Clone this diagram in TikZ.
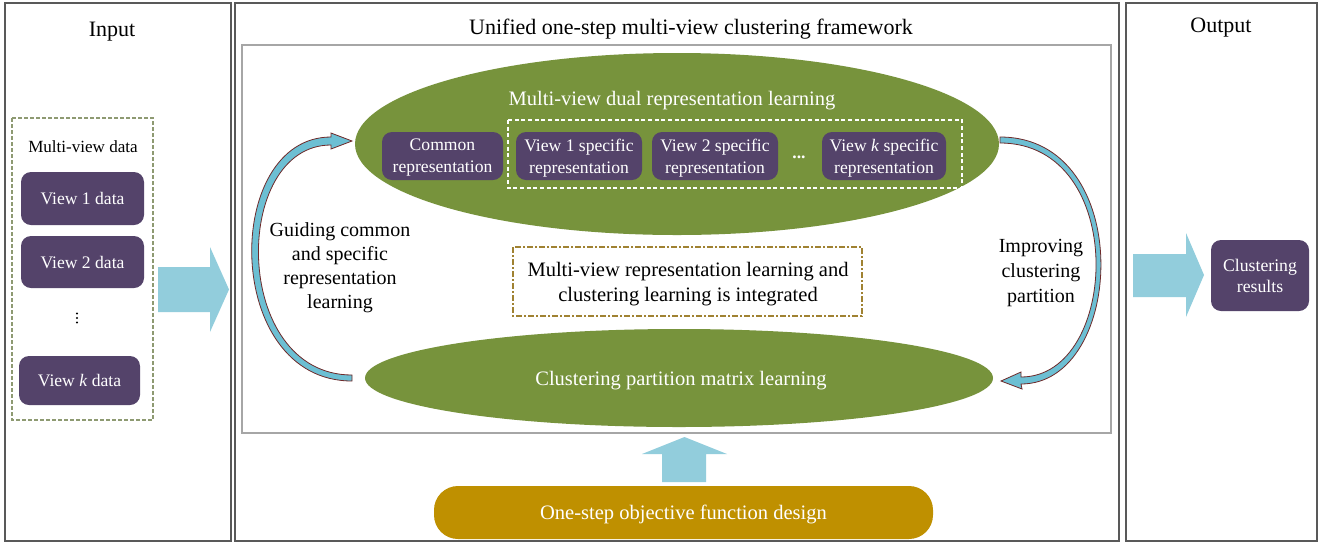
\documentclass[tikz,border=0pt]{standalone}
\usepackage{fontspec}
\setmainfont{Liberation Serif}
\usetikzlibrary{shapes.geometric}
\definecolor{vpurple}{HTML}{54436A}
\definecolor{vgreen}{HTML}{77933C}
\definecolor{vblue}{HTML}{92CDDC}
\definecolor{vblueb}{HTML}{6CBFD3}
\definecolor{vgold}{HTML}{BF9000}
\definecolor{vdash}{HTML}{A08232}
\definecolor{vdashg}{HTML}{8E9A72}
\definecolor{vred}{HTML}{6E2A2A}
\definecolor{vframe}{HTML}{595959}
\definecolor{vinner}{HTML}{A6A6A6}
\begin{document}
\begin{tikzpicture}[x=0.75pt,y=-0.75pt,
  panel/.style={draw=vframe,line width=1.4pt},
  pbox/.style={fill=vpurple,text=white,rounded corners=7.5pt,align=center,inner sep=0pt,
     text depth=0pt,font=\fontsize{13.2}{16.5}\selectfont},
  ttl/.style={font=\fontsize{16.5}{20}\selectfont,inner sep=0pt,anchor=base},
  bigtxt/.style={font=\fontsize{15.4}{18.75}\selectfont,align=center,inner sep=0pt,text depth=0pt},
  blockarrow/.style={fill=vblue,draw=none},
  curvearrow/.style={fill=vblueb,draw=vred,line width=0.6pt,line join=miter}
]
\useasboundingbox (0,0) rectangle (1327,544);
\fill[white] (0,0) rectangle (1327,544);

% panels
\draw[panel] (5,3) rectangle (231,541);
\draw[panel] (235,3) rectangle (1119,541);
\draw[panel] (1126,3) rectangle (1317,541);
\draw[draw=vinner,line width=0.9pt] (242,45) rectangle (1111,433);

% titles
\node[ttl] (tin) at (112,36) {Input};
\node[ttl] (tmid) at (691,34) {Unified one-step multi-view clustering framework};
\node[ttl] (tout) at (1221,32) {Output};

% input column
\draw[draw=vdashg,line width=0.8pt,dash pattern=on 3pt off 1.5pt] (12,118) rectangle (153,420);
\node[font=\fontsize{12.8}{15}\selectfont,inner sep=0pt] (mvd) at (83,147) {Multi-view data};
\node[pbox,minimum width=123*0.75pt,minimum height=53*0.75pt] (v1) at (82.5,198.5) {View 1 data};
\node[pbox,minimum width=123*0.75pt,minimum height=52*0.75pt] (v2) at (82.5,262) {View 2 data};
\fill (77,313.5) circle (1.1) (77,318) circle (1.1) (77,322.5) circle (1.1);
\node[pbox,minimum width=121*0.75pt,minimum height=49*0.75pt] (vk) at (79.5,380.5) {View \textit{k} data};

% input arrow
\path[blockarrow] (158,267) -- (210,267) -- (210,247) -- (229,289.5) -- (210,332) -- (210,312) -- (158,312) -- cycle;

% top ellipse
\node[ellipse,fill=vgreen,minimum width=644*0.75pt,minimum height=182*0.75pt,inner sep=0pt] (e1) at (677,144) {};
\node[bigtxt,text=white] (e1t) at (672,98) {Multi-view dual representation learning};
\draw[white,line width=0.8pt,dash pattern=on 3pt off 2pt] (508,120) rectangle (962,188);
\node[pbox,minimum width=121*0.75pt,minimum height=48*0.75pt] (cr) at (442.5,156) {Common\\representation};
\node[pbox,minimum width=126*0.75pt,minimum height=48*0.75pt] (s1) at (579,156) {View 1 specific\\representation};
\node[pbox,minimum width=126*0.75pt,minimum height=48*0.75pt] (s2) at (715,156) {View 2 specific\\representation};
\node[text=white,inner sep=0pt,font=\fontsize{13.2}{16.5}\selectfont\bfseries] (sd) at (799,157) {...};
\node[pbox,minimum width=124*0.75pt,minimum height=48*0.75pt] (sk) at (884,156) {View \textit{k} specific\\representation};

% middle dashed box
\draw[draw=vdash,line width=0.8pt,dash pattern=on 4.5pt off 1.5pt on 1.5pt off 1.5pt] (513,247) rectangle (862,316);
\node[bigtxt] (mid) at (688,282) {Multi-view representation learning and\\clustering learning is integrated};

% bottom ellipse
\node[ellipse,fill=vgreen,minimum width=628*0.75pt,minimum height=98*0.75pt,inner sep=0pt] (e2) at (679,378) {};
\node[bigtxt,text=white] (e2t) at (681,378) {Clustering partition matrix learning};

% side labels
\node[font=\fontsize{15}{18}\selectfont,align=center,inner sep=0pt,text depth=0pt] (gl) at (340,265.5) {Guiding common\\and specific\\representation\\learning};
\node[font=\fontsize{15}{18.75}\selectfont,align=center,inner sep=0pt,text depth=0pt] (il) at (1041,270.5) {Improving\\clustering\\partition};

% left curved arrow (from bottom ellipse up to top ellipse)
\path[curvearrow] (352,381) .. controls (222,381) and (222,137) .. (331,137)
  -- (331,133) -- (352,141) -- (331,149) -- (331,145)
  .. controls (231,145) and (231,375) .. (352,375) -- cycle;

% right curved arrow (from top ellipse down to bottom ellipse)
\path[curvearrow] (1000,137) .. controls (1136,137) and (1126,384) .. (1021,384)
  -- (1022,389) -- (1001,381) -- (1021,372) -- (1021,377)
  .. controls (1120,377) and (1129,143) .. (1000,143) -- cycle;

% objective function
\node[fill=vgold,text=white,rounded corners=18pt,minimum width=499*0.75pt,minimum height=53*0.75pt,
  inner sep=0pt,text depth=0pt,font=\fontsize{15.4}{18}\selectfont] (obj) at (683.5,512.5) {One-step objective function design};
\path[blockarrow] (662,482) -- (662,454) -- (642,454) -- (684.5,437) -- (727,454) -- (706,454) -- (706,482) -- cycle;

% output
\path[blockarrow] (1133,254) -- (1186,254) -- (1186,233) -- (1204,275) -- (1186,317) -- (1186,297) -- (1133,297) -- cycle;
\node[pbox,minimum width=98*0.75pt,minimum height=71*0.75pt,font=\fontsize{13.3}{15.75}\selectfont] (cres) at (1260,275.5) {Clustering\\results};
\end{tikzpicture}
\end{document}
